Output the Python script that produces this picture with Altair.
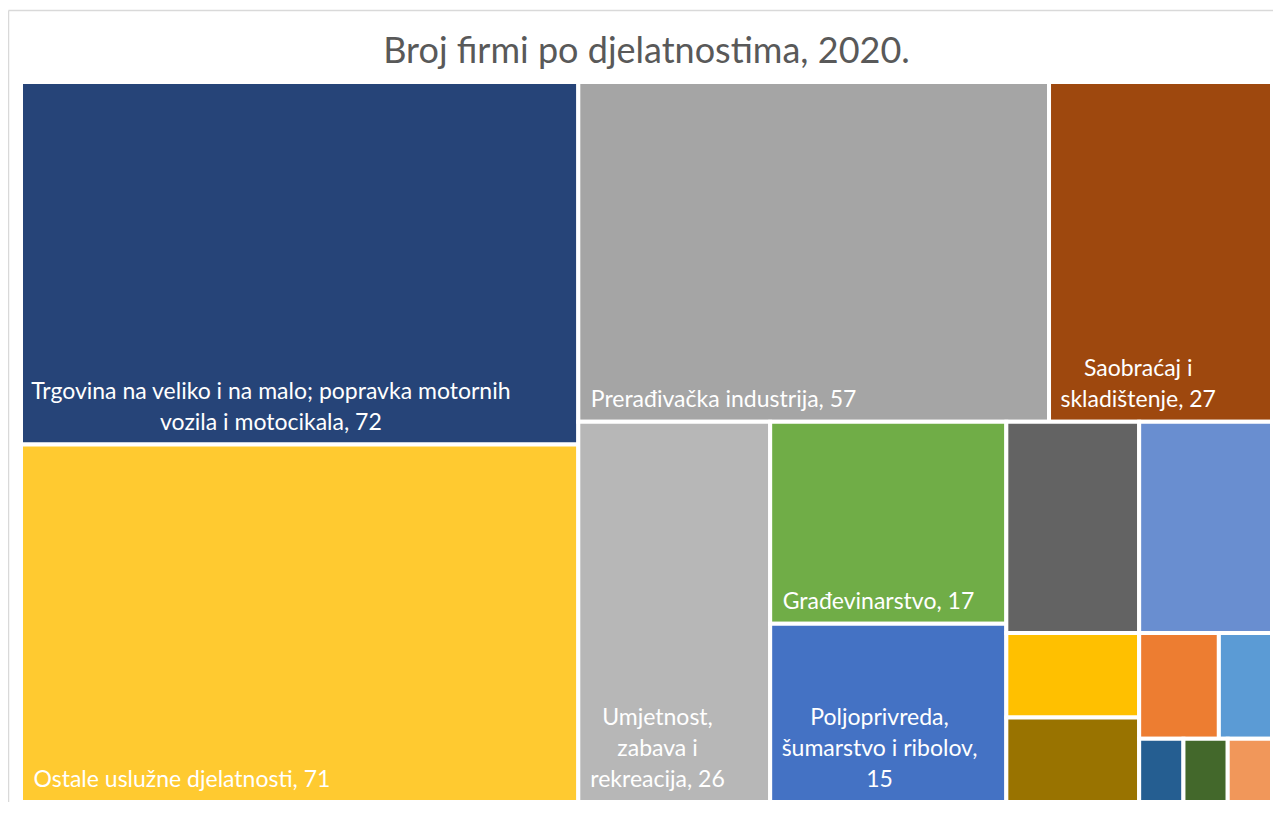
import altair as alt
import pandas as pd

# ---- data ----
names = [
    "Trgovina na veliko i na malo; popravka motornih vozila i motocikala",
    "Ostale uslužne djelatnosti",
    "Prerađivačka industrija",
    "Saobraćaj i skladištenje",
    "Umjetnost, zabava i rekreacija",
    "Građevinarstvo",
    "Poljoprivreda, šumarstvo i ribolov",
    "Stručne, naučne i tehničke djelatnosti",
    "Informacije i komunikacije",
    "Djelatnosti pružanja smještaja i usluga hrane",
    "Administrativne i pomoćne uslužne djelatnosti",
    "Finansijske djelatnosti i djelatnosti osiguranja",
    "Obrazovanje",
    "Djelatnosti zdravstvene i socijalne zaštite",
    "Poslovanje nekretninama",
    "Snabdijevanje vodom",
]
values = [72, 71, 57, 27, 26, 17, 15, 10, 10, 4, 4, 3, 2, 1, 1, 1]
colors = [
    "#264478", "#FFCA30", "#A5A5A5", "#9E480E", "#B7B7B7", "#70AD47",
    "#4472C4", "#636363", "#698ED0", "#FFC000", "#997300", "#ED7D31",
    "#5B9BD5", "#255E91", "#43682B", "#F1975A",
]
# label lines as wrapped in the reference ({v} = value); None = no label shown
label_lines = [
    ["Trgovina na veliko i na malo; popravka motornih", "vozila i motocikala, {v}"],
    ["Ostale uslužne djelatnosti, {v}"],
    ["Prerađivačka industrija, {v}"],
    ["Saobraćaj i", "skladištenje, {v}"],
    ["Umjetnost,", "zabava i", "rekreacija, {v}"],
    ["Građevinarstvo, {v}"],
    ["Poljoprivreda,", "šumarstvo i ribolov,", "{v}"],
    None, None, None, None, None, None, None, None, None,
]
title = "Broj firmi po djelatnostima, 2020."

# ---- layout ----
W, H = 1251, 720
GAP = 4
FONT = "Lato"
FS = 23
LH = 31
PAD = 10.5
BOTTOM_PAD = 13


def squarify(vals, x, y, w, h):
    total = sum(vals)
    k = w * h / total
    areas = [v * k for v in vals]
    out = []

    def worst(row, side):
        s = sum(row)
        return max(max(side * side * r / (s * s), s * s / (side * side * r)) for r in row)

    i = 0
    while i < len(areas):
        side = min(w, h)
        row = [areas[i]]
        j = i + 1
        while j < len(areas) and worst(row + [areas[j]], side) <= worst(row, side):
            row.append(areas[j])
            j += 1
        s = sum(row)
        if w >= h:
            t = s / h
            cy = y
            for r in row:
                rh = r / t
                out.append((x, cy, x + t, cy + rh))
                cy += rh
            x += t
            w -= t
        else:
            t = s / w
            cx = x
            for r in row:
                rw = r / t
                out.append((cx, y, cx + rw, y + t))
                cx += rw
            y += t
            h -= t
        i = j
    return out


rects = squarify(values, 0, 0, W, H)

rect_df = pd.DataFrame({
    "name": names,
    "value": values,
    "color": colors,
    "x0": [r[0] for r in rects],
    "y0": [r[1] for r in rects],
    "x1": [r[2] for r in rects],
    "y1": [r[3] for r in rects],
})

# approximate Lato advance widths (em)
CW = {" ": .193, ",": .21, ".": .21, ";": .23, "a": .505, "b": .565, "c": .46,
      "ć": .46, "č": .46, "d": .565, "đ": .565, "e": .525, "f": .32, "g": .50,
      "h": .565, "i": .24, "j": .24, "k": .51, "l": .24, "m": .845, "n": .565,
      "o": .565, "p": .565, "r": .365, "s": .42, "š": .42, "t": .35, "u": .565,
      "v": .505, "z": .455, "ž": .455, "P": .585, "S": .515, "U": .675,
      "T": .55, "O": .715, "G": .675}


def text_w(s):
    return sum(CW.get(c, .58) for c in s) * FS


left_rows, center_rows = [], []
for r, v, lines in zip(rects, values, label_lines):
    if not lines:
        continue
    lines = [ln.replace("{v}", str(v)) for ln in lines]
    fill_left = r[0] + GAP / 2
    fill_bottom = r[3] - GAP / 2
    last_base = fill_bottom - BOTTOM_PAD
    n = len(lines)
    if n == 1:
        left_rows.append({"x": fill_left + PAD, "y": last_base, "t": lines[0]})
    else:
        bw = max(text_w(ln) for ln in lines)
        cx = fill_left + PAD + bw / 2
        for k, ln in enumerate(lines):
            center_rows.append({"x": cx, "y": last_base - (n - 1 - k) * LH, "t": ln})

xs = alt.Scale(domain=[0, W], nice=False, zero=False)
ys = alt.Scale(domain=[0, H], nice=False, zero=False, reverse=True)

base = alt.Chart(rect_df).mark_rect(stroke="white", strokeWidth=GAP).encode(
    x=alt.X("x0:Q", scale=xs, axis=None),
    x2="x1:Q",
    y=alt.Y("y0:Q", scale=ys, axis=None),
    y2="y1:Q",
    color=alt.Color("color:N", scale=None, legend=None),
    tooltip=[alt.Tooltip("name:N", title="Djelatnost"), alt.Tooltip("value:Q", title="Broj firmi")],
)

txt_left = alt.Chart(pd.DataFrame(left_rows)).mark_text(
    align="left", baseline="alphabetic", font=FONT, fontSize=FS, color="white"
).encode(x=alt.X("x:Q", scale=xs), y=alt.Y("y:Q", scale=ys), text="t:N")

txt_center = alt.Chart(pd.DataFrame(center_rows)).mark_text(
    align="center", baseline="alphabetic", font=FONT, fontSize=FS, color="white"
).encode(x=alt.X("x:Q", scale=xs), y=alt.Y("y:Q", scale=ys), text="t:N")

title_mark = alt.Chart(pd.DataFrame({"t": [title]})).mark_text(
    align="center", baseline="alphabetic", font=FONT, fontSize=36, color="#595959"
).encode(x=alt.value(W / 2), y=alt.value(-19), text="t:N")

frame_top = alt.Chart(pd.DataFrame({"a": [0]})).mark_rule(color="#D9D9D9", strokeWidth=1.5).encode(
    x=alt.value(-12.5), x2=alt.value(W + 2), y=alt.value(-71.5)
)
frame_left = alt.Chart(pd.DataFrame({"a": [0]})).mark_rule(color="#D9D9D9", strokeWidth=1.5).encode(
    x=alt.value(-12.5), y=alt.value(-71.5), y2=alt.value(H + 2)
)

chart = alt.layer(base, txt_left, txt_center, title_mark, frame_top, frame_left).properties(
    width=W,
    height=H,
    autosize=alt.AutoSizeParams(type="none"),
    padding={"left": 13, "top": 74, "right": 1, "bottom": 0},
    background="white",
).configure_view(stroke=None)

chart.save("out.html", embed_options={"renderer": "svg", "actions": False})
